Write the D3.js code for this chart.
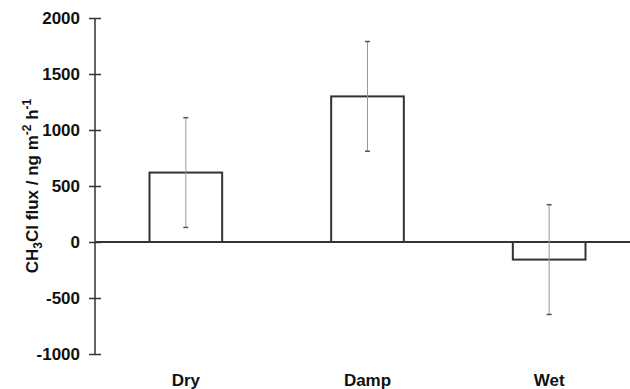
<!DOCTYPE html>
<html>
<head>
<meta charset="utf-8">
<script src="https://cdn.jsdelivr.net/npm/d3@7"></script>
<style>
  body { margin: 0; background: #fff; }
  text { font-family: "Liberation Sans", Arial, sans-serif; font-weight: bold; fill: #111; }
</style>
</head>
<body>
<div id="chart"></div>
<script>
// chart data
var categories = ["Dry", "Damp", "Wet"];
var fluxMean = [620, 1300, -157];
var fluxErr = [490, 490, 490];
var yTicks = [-1000, -500, 0, 500, 1000, 1500, 2000];

var width = 630,
    height = 389;

var svg = d3.select("#chart")
  .append("svg")
    .attr("width", width)
    .attr("height", height);

var y = d3.scaleLinear()
  .domain([-1000, 2000])
  .range([354, 18]);

var x = d3.scaleBand()
  .domain(categories)
  .range([95, 640])
  .paddingInner(0.6)
  .paddingOuter(0.3);

var rows = categories.map(function(c, i) {
  return { cat: c, mean: fluxMean[i], err: fluxErr[i] };
});

// bars (open rectangles)
svg.selectAll("rect.bar")
  .data(rows)
  .enter()
    .append("rect")
    .attr("class", "bar")
    .attr("x", function(d) { return x(d.cat); })
    .attr("y", function(d) { return y(Math.max(0, d.mean)); })
    .attr("width", x.bandwidth())
    .attr("height", function(d) { return Math.abs(y(d.mean) - y(0)); })
    .attr("fill", "none")
    .attr("stroke", "#333")
    .attr("stroke-width", 2);

// zero line across the plot
svg.append("line")
  .attr("x1", 95)
  .attr("x2", width)
  .attr("y1", y(0))
  .attr("y2", y(0))
  .attr("stroke", "#333")
  .attr("stroke-width", 2);

// error bars
var eb = svg.selectAll("g.err")
  .data(rows)
  .enter()
    .append("g")
    .attr("class", "err");

eb.append("line")
  .attr("x1", function(d) { return x(d.cat) + x.bandwidth() / 2; })
  .attr("x2", function(d) { return x(d.cat) + x.bandwidth() / 2; })
  .attr("y1", function(d) { return y(d.mean + d.err); })
  .attr("y2", function(d) { return y(d.mean - d.err); })
  .attr("stroke", "#999")
  .attr("stroke-width", 1);

[1, -1].forEach(function(sign) {
  eb.append("line")
    .attr("x1", function(d) { return x(d.cat) + x.bandwidth() / 2 - 2.5; })
    .attr("x2", function(d) { return x(d.cat) + x.bandwidth() / 2 + 2.5; })
    .attr("y1", function(d) { return y(d.mean + sign * d.err); })
    .attr("y2", function(d) { return y(d.mean + sign * d.err); })
    .attr("stroke", "#555")
    .attr("stroke-width", 1.5);
});

// y axis
var yAxis = svg.append("g")
  .attr("transform", "translate(95,0)")
  .call(d3.axisLeft(y).tickValues(yTicks).tickSize(6).tickPadding(9)
    .tickFormat(function(d) { return String(d); }));

yAxis.select(".domain")
  .attr("stroke", "#333")
  .attr("stroke-width", 1.5)
  .attr("d", "M0," + y(2000) + "V" + y(-1000));

yAxis.selectAll(".tick line")
  .attr("x1", -6)
  .attr("x2", 6)
  .attr("stroke", "#333")
  .attr("stroke-width", 1.5);

yAxis.selectAll(".tick text")
  .attr("font-family", "Liberation Sans, Arial, sans-serif")
  .attr("font-size", 17)
  .attr("font-weight", "bold")
  .attr("fill", "#111");

// category labels
svg.selectAll("text.cat")
  .data(categories)
  .enter()
    .append("text")
    .attr("class", "cat")
    .attr("x", function(d) { return x(d) + x.bandwidth() / 2; })
    .attr("y", 386)
    .attr("text-anchor", "middle")
    .attr("font-size", 17)
    .text(function(d) { return d; });

// y axis title with sub/superscripts
var title = svg.append("text")
  .attr("transform", "translate(38,186) rotate(-90)")
  .attr("text-anchor", "middle")
  .attr("font-size", 17);

title.append("tspan").text("CH");
title.append("tspan").attr("font-size", 12).attr("dy", 4).text("3");
title.append("tspan").attr("dy", -4).text("Cl flux / ng m");
title.append("tspan").attr("font-size", 12).attr("dy", -7).text("-2");
title.append("tspan").attr("dy", 7).text(" h");
title.append("tspan").attr("font-size", 12).attr("dy", -7).text("-1");
</script>
</body>
</html>
